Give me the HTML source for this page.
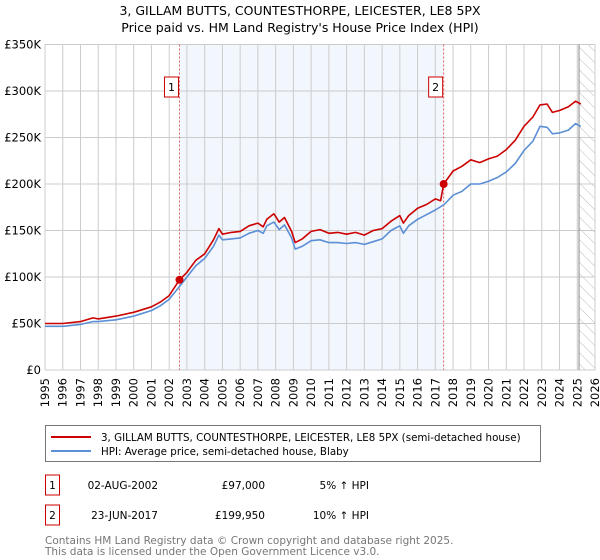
<!DOCTYPE html>
<html><head><meta charset="utf-8"><style>
body{margin:0;background:#fff;font-family:"Liberation Sans","DejaVu Sans",sans-serif;}
#wrap{position:relative;width:600px;height:560px;overflow:hidden;}
svg text{font-family:"DejaVu Sans","Liberation Sans",sans-serif;}
</style></head><body>
<div id="wrap">
<svg id="chart" width="600" height="560"></svg>
</div>
<script>
const years=[1995,1996,1997,1998,1999,2000,2001,2002,2003,2004,2005,2006,2007,2008,2009,2010,2011,2012,2013,2014,2015,2016,2017,2018,2019,2020,2021,2022,2023,2024,2025,2026];
const yTicks=[0,50,100,150,200,250,300,350];
const hpiT=[1995,1996,1997,1997.7,1998,1999,2000,2000.5,2001,2001.5,2002,2002.5,2003,2003.5,2004,2004.5,2004.8,2005,2005.5,2006,2006.5,2007,2007.3,2007.5,2007.9,2008.2,2008.5,2008.9,2009.1,2009.5,2010,2010.5,2011,2011.5,2012,2012.5,2013,2013.5,2014,2014.5,2015,2015.2,2015.5,2016,2016.5,2017,2017.5,2018,2018.5,2019,2019.5,2020,2020.5,2021,2021.5,2022,2022.5,2022.9,2023.3,2023.6,2024,2024.5,2024.9,2025.2];
const hpiV=[47,47,49,52,52,54,58,61,64,69,76,88,100,112,120,133,145,140,141,142,147,150,147,155,159,151,156,142,130,133,139,140,137,137,136,137,135,138,141,150,155,147,155,162,167,172,178,188,192,200,200,203,207,213,222,236,246,262,261,254,255,258,265,262];
const redT=[1995,1996,1997,1997.7,1998,1999,2000,2001,2001.5,2002,2002.58,2003,2003.5,2004,2004.5,2004.8,2005,2005.5,2006,2006.5,2007,2007.3,2007.5,2007.9,2008.2,2008.5,2008.9,2009.1,2009.5,2010,2010.5,2011,2011.5,2012,2012.5,2013,2013.5,2014,2014.5,2015,2015.2,2015.5,2016,2016.5,2017,2017.3,2017.47,2018,2018.5,2019,2019.5,2020,2020.5,2021,2021.5,2022,2022.5,2022.9,2023.3,2023.6,2024,2024.5,2024.9,2025.2];
const redV=[50,50,52,56,55,58,62,68,73,80,97,105,118,125,140,152,146,148,149,155,158,154,162,168,159,164,149,137,141,149,151,147,148,146,148,145,150,152,160,166,158,166,174,178,184,182,200,214,219,226,223,227,230,237,247,262,272,285,286,277,279,283,289,286];
const saleT=[2002.58,2017.47];
const saleV=[97,199.95];
const saleLabels=["1","2"];

const X0=45,X1=595,Y0=370,Y1=44.5;
const xs=t=>X0+(t-1995)/(2026-1995)*(X1-X0);
const ys=v=>Y0-v/350*(Y0-Y1);
const svg=document.getElementById('chart');
const NS='http://www.w3.org/2000/svg';
function mk(tag,a,parent){const e=document.createElementNS(NS,tag);for(const k in a)e.setAttribute(k,a[k]);(parent||svg).appendChild(e);return e;}
function txt(s,a,name){const e=mk('text',a);e.textContent=s;


return e;}

// title
txt("3, GILLAM BUTTS, COUNTESTHORPE, LEICESTER, LE8 5PX",{x:300,y:15,'text-anchor':'middle','font-size':12.5},'chart-title');
txt("Price paid vs. HM Land Registry's House Price Index (HPI)",{x:300,y:32,'text-anchor':'middle','font-size':12.5},'chart-subtitle');

// shaded region
const sh=mk('rect',{x:xs(saleT[0]),y:Y1,width:xs(saleT[1])-xs(saleT[0]),height:Y0-Y1,fill:'#eef3fc','fill-opacity':0.75});


// hatch
const defs=mk('defs',{});
const pat=mk('pattern',{id:'hatch',width:8,height:8,patternUnits:'userSpaceOnUse',patternTransform:'rotate(-45)'},defs);
mk('line',{x1:0,y1:0,x2:0,y2:8,stroke:'#bbb','stroke-width':1},pat);
const hr=mk('rect',{x:xs(2025.1),y:Y1,width:X1-xs(2025.1),height:Y0-Y1,fill:'url(#hatch)'});



// grid
years.forEach(y=>{const l=mk('line',{x1:xs(y),x2:xs(y),y1:Y1,y2:Y0,stroke:'#cccccc','stroke-width':1});


txt(String(y),{x:0,y:0,transform:`translate(${xs(y)+4},${Y0+8}) rotate(-90)`,'text-anchor':'end','font-size':11.5},'x-tick-label');});
yTicks.forEach(v=>{const l=mk('line',{x1:X0,x2:X1,y1:ys(v),y2:ys(v),stroke:'#cccccc','stroke-width':1});


txt(v===0?'£0':'£'+v+'K',{x:X0-4,y:ys(v)+4,'text-anchor':'end','font-size':11.5},'y-tick-label');});
mk('line',{x1:xs(2025.1),x2:xs(2025.1),y1:Y1,y2:Y0,stroke:'#888','stroke-width':1});

// sale vlines
saleT.forEach((t,i)=>{const l=mk('line',{x1:xs(t),x2:xs(t),y1:Y1,y2:Y0,stroke:'#e06060','stroke-width':1,'stroke-dasharray':'2,2'});


const r=mk('rect',{x:xs(t)-15,y:77,width:14,height:20,fill:'#fff',stroke:'#cc0000','stroke-width':1});


txt(saleLabels[i],{x:xs(t)-8,y:91,'text-anchor':'middle','font-size':11},'sale-label');});

function line(T,V,col,name){const d=T.map((t,i)=>(i?'L':'M')+xs(t).toFixed(1)+','+ys(V[i]).toFixed(1)).join('');
const p=mk('path',{d:d,fill:'none',stroke:col,'stroke-width':1.6,'stroke-linejoin':'round'});

}
line(hpiT,hpiV,'#5b8fd6','hpi-line');
line(redT,redV,'#cc0000','price-paid-line');
saleT.forEach((t,i)=>{const c=mk('circle',{cx:xs(t),cy:ys(saleV[i]),r:4,fill:'#cc0000'});

});

// legend
const lg=mk('rect',{x:45.5,y:425.5,width:495,height:36,fill:'#fff',stroke:'#777','stroke-width':1});


mk('line',{x1:51,x2:91,y1:437,y2:437,stroke:'#cc0000','stroke-width':2});
mk('line',{x1:51,x2:91,y1:451,y2:451,stroke:'#5b8fd6','stroke-width':2});
txt("3, GILLAM BUTTS, COUNTESTHORPE, LEICESTER, LE8 5PX (semi-detached house)",{x:101,y:441,'font-size':10.3},'legend-entry-price-paid');
txt("HPI: Average price, semi-detached house, Blaby",{x:101,y:455,'font-size':10.3},'legend-entry-hpi');

// table
const rowsY=[485,515];
const dates=["02-AUG-2002","23-JUN-2017"],prices=["£97,000","£199,950"],hpis=["5% ↑ HPI","10% ↑ HPI"];
rowsY.forEach((y,i)=>{const r=mk('rect',{x:45.5,y:y-10,width:14,height:20,fill:'#fff',stroke:'#cc0000','stroke-width':1});


txt(saleLabels[i],{x:52.5,y:y+4,'text-anchor':'middle','font-size':10.5},'table-row-number');
txt(dates[i],{x:158,y:y+4,'text-anchor':'end','font-size':10.5},'table-date');
txt(prices[i],{x:265,y:y+4,'text-anchor':'end','font-size':10.5},'table-price');
txt(hpis[i],{x:369,y:y+4,'text-anchor':'end','font-size':10.5},'table-hpi-change');});
txt("Contains HM Land Registry data © Crown copyright and database right 2025.",{x:45,y:544,'font-size':10.5,fill:'#777'},'footer-copyright');
txt("This data is licensed under the Open Government Licence v3.0.",{x:45,y:555,'font-size':10.5,fill:'#777'},'footer-licence');
</script>
</body></html>
